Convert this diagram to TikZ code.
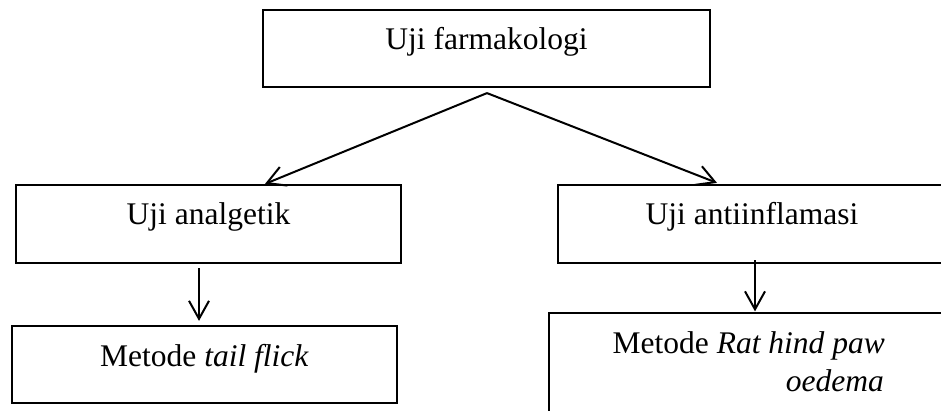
\documentclass[tikz,border=0pt]{standalone}
\usepackage{fontspec}
\setmainfont{Liberation Serif}
\usetikzlibrary{arrows.meta,calc}
\begin{document}
\begin{tikzpicture}[x=1pt,y=-1pt,
  box/.style={draw,line width=2.2pt,rectangle,inner sep=0pt},
  lbl/.style={inner sep=0pt,anchor=base,font=\fontsize{31.5}{38}\selectfont},
  conn/.style={line width=2pt,-{Straight Barb[length=18pt,width=20pt,line width=2pt]}}]
\useasboundingbox (0,0) rectangle (941,411);
\clip (0,0) rectangle (941,411);
\fill[white] (0,0) rectangle (941,411);
% boxes
\node[box,minimum width=447pt,minimum height=77pt] (top) at (486.5,48.5) {};
\node[box,minimum width=385pt,minimum height=78pt] (lmid) at (208.5,224) {};
\node[box,minimum width=388pt,minimum height=78pt] (rmid) at (752,224) {};
\node[box,minimum width=385pt,minimum height=77pt] (lbot) at (204.5,364.5) {};
\node[box,minimum width=406pt,minimum height=117pt] (rbot) at (752,371.5) {};
% texts
\node[lbl] (ttop) at (486.5,50) {Uji farmakologi};
\node[lbl] (tlmid) at (208.5,225) {Uji analgetik};
\node[lbl] (trmid) at (752,225) {Uji antiinflamasi};
\node[lbl] (tlbot) at (204.5,366) {Metode \textit{tail flick}};
\node[lbl,anchor=base east] (trbota) at (885,353) {Metode \textit{Rat hind paw}};
\node[lbl,anchor=base east] (trbotb) at (884,391) {\textit{oedema}};
% connectors
\draw[conn] ($(top.south)+(0.5,5)$) -- ($(lmid.north)+(56.5,0)$);
\draw[conn] ($(top.south)+(0.5,5)$) -- ($(rmid.north)+(-35,-1)$);
\draw[conn] ($(lmid.south)+(-9.5,4)$) -- ($(lbot.north)+(-5.5,-4)$);
\draw[conn] ($(rmid.south)+(3,-4)$) -- ($(rbot.north)+(3,-0.5)$);
\end{tikzpicture}
\end{document}
